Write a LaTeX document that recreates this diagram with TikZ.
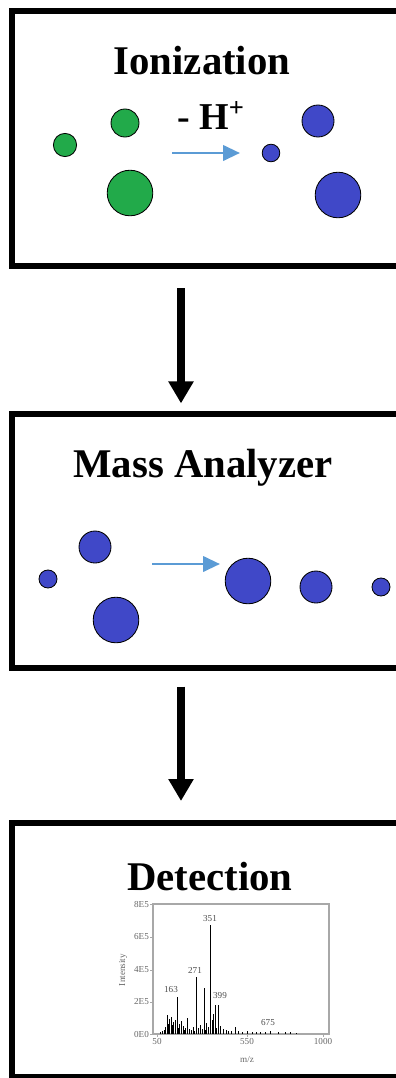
\documentclass[tikz,border=0pt]{standalone}
\usepackage{fontspec}
\setmainfont{Liberation Serif}
\usepackage{tikz}
\usetikzlibrary{arrows.meta,positioning}
\definecolor{IonGreen}{HTML}{22AA4A}
\definecolor{IonBlue}{HTML}{4048C8}
\definecolor{FlowBlue}{HTML}{5B9BD5}
\definecolor{PlotGray}{HTML}{A8A8A8}

\begin{document}
\begin{tikzpicture}[x=0.25mm,y={(0,-0.25mm)},
  stage/.style={draw=black,line width=1.5mm,outer sep=0.75mm,minimum width=104.6mm,minimum height=63.5mm,inner sep=0pt},
  title/.style={font=\fontsize{29}{30}\selectfont\bfseries,anchor=base,inner sep=0pt},
  flow/.style={-{Triangle[width=6mm,length=5.5mm]},line width=2mm},
  drift/.style={-{Triangle[width=3.8mm,length=4.2mm]},draw=FlowBlue,line width=0.7mm},
  molg/.style={draw=black,line width=0.6pt,fill=IonGreen},
  molb/.style={draw=black,line width=0.6pt,fill=IonBlue},
  tick/.style={font=\fontsize{6.5}{6.5}\selectfont,text=black!60,inner sep=0.6pt},
  peaklab/.style={font=\fontsize{6.5}{6.5}\selectfont,text=black!70,anchor=south,inner sep=0.6pt}
]
\useasboundingbox (0,0) rectangle (395,1078);

\node[stage] (ion) at (220.75,138.5) {};
\node[stage] (mass) at (220.75,541) {};
\node[stage] (det) at (220.75,950) {};
\coordinate (axis) at (181,0);

\draw[flow,shorten <=4.9mm,shorten >=1.9mm] (ion.south -| axis) -- (mass.north -| axis);
\draw[flow,shorten <=3.9mm,shorten >=4.75mm] (mass.south -| axis) -- (det.north -| axis);

% ionization
\node[title] (ionT) at (202,75) {Ionization};
\node[title,font=\fontsize{27}{28}\selectfont\bfseries] (loss) at (211,129) {- H\textsuperscript{+}};
\coordinate (ionA) at (172,153);
\coordinate (ionB) at (240,153);
\draw[drift] (ionA) -- (ionB);
\draw[molg] (65,145) circle[radius=2.9mm];
\draw[molg] (125,123) circle[radius=3.5mm];
\draw[molg] (130,193) circle[radius=5.7mm];
\draw[molb] (271,153) circle[radius=2.2mm];
\draw[molb] (318,121) circle[radius=4mm];
\draw[molb] (338,195) circle[radius=5.7mm];

% mass analyzer
\node[title] (massT) at (203,477) {Mass Analyzer};
\coordinate (massA) at (152,564);
\coordinate (massB) at (220,564);
\draw[drift] (massA) -- (massB);
\draw[molb] (48,579) circle[radius=2.25mm];
\draw[molb] (95,547) circle[radius=4mm];
\draw[molb] (116,620) circle[radius=5.7mm];
\draw[molb] (248,581) circle[radius=5.7mm];
\draw[molb] (316,587) circle[radius=4mm];
\draw[molb] (381,587) circle[radius=2.25mm];

% detection
\node[title] (detT) at (210,890) {Detection};
\draw[PlotGray,line width=0.8pt] (153,904) rectangle (329,1034);
\foreach \ty/\tl in {904/8E5,937/6E5,970/4E5,1002/2E5,1034/0E0}{
  \draw[PlotGray,line width=0.5pt] (150,\ty) -- (153,\ty);
  \node[tick,anchor=east] at (150,\ty) {\tl};
}
\foreach \tx/\tl in {157/50,247/550,323/1000}{
  \draw[PlotGray,line width=0.5pt] (\tx,1034) -- (\tx,1037);
  \node[tick,anchor=north] at (\tx,1037) {\tl};
}
\node[tick,rotate=90] (ylab) at (123,970) {Intensity};
\node[tick] (xlab) at (247,1060) {m/z};
\foreach \px/\ph in {160/2,162/3,164/4,165/7,167/19,168/10,169/15,171/17,172/9,173/12,175/14,177/37,178/6,179/10,181/13,183/8,184/4,185/6,187/16,189/5,191/4,193/7,194/3,196/57,198/6,200/9,202/5,204/46,205/4,206/11,208/7,210/109,212/14,213/20,215/29,216/6,218/29,220/8,223/5,226/4,228/3,231/3,235/7,238/3,242/2,247/3,252/2,256/2,260/2,265/2,270/3,278/2,285/2,290/2,296/1}{
  \draw[black,line width=0.35pt] (\px,1034) -- (\px,1034-\ph);
}
\node[peaklab] (p163) at (171,994) {163};
\node[peaklab] (p271) at (195,975) {271};
\node[peaklab] (p351) at (210,923) {351};
\node[peaklab] (p399) at (220,1000) {399};
\node[peaklab] (p675) at (268,1027) {675};
\end{tikzpicture}
\end{document}
